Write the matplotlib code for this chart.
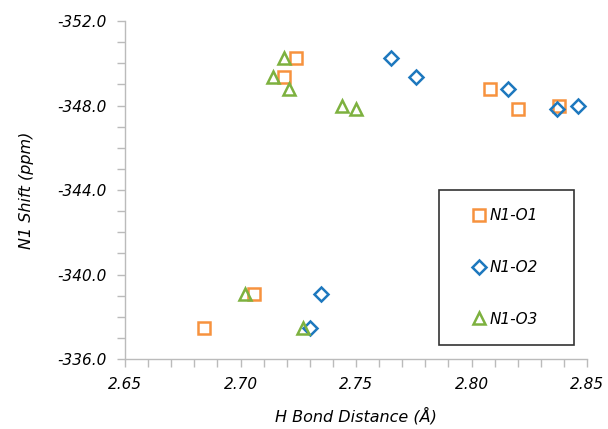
import matplotlib
matplotlib.use("Agg")
import matplotlib.pyplot as plt
from matplotlib.ticker import MultipleLocator, FormatStrFormatter

plt.rcParams['font.family'] = ['DejaVu Sans']

shift = [-350.27, -349.33, -348.79, -348.0, -347.83, -339.07, -337.45]
o1_dist = [2.724, 2.719, 2.808, 2.838, 2.820, 2.706, 2.684]
o2_dist = [2.765, 2.776, 2.816, 2.846, 2.837, 2.735, 2.730]
o3_dist = [2.719, 2.714, 2.721, 2.744, 2.750, 2.702, 2.727]

fig = plt.figure(figsize=(6.08, 4.29), dpi=100)
ax = fig.add_axes([0.2056, 0.163, 0.7599, 0.788])

ms = 9
mew = 1.8
ax.plot(o1_dist, shift, ls='none', marker='s', ms=ms, mfc='none', mec='#F7923E', mew=mew, label='N1-O1')
ax.plot(o2_dist, shift, ls='none', marker='D', ms=7.5, mfc='none', mec='#1D78BE', mew=mew, label='N1-O2')
ax.plot(o3_dist, shift, ls='none', marker='^', ms=ms, mfc='none', mec='#7DB13F', mew=mew, label='N1-O3')

ax.set_xlim(2.65, 2.85)
ax.set_ylim(-336, -352)
ax.xaxis.set_major_locator(MultipleLocator(0.05))
ax.xaxis.set_minor_locator(MultipleLocator(0.01))
ax.yaxis.set_major_locator(MultipleLocator(4))
ax.yaxis.set_minor_locator(MultipleLocator(1))
ax.xaxis.set_major_formatter(FormatStrFormatter('%.2f'))
ax.yaxis.set_major_formatter(FormatStrFormatter('%.1f'))

for s in ['top', 'right']:
    ax.spines[s].set_visible(False)
for s in ['left', 'bottom']:
    ax.spines[s].set_color('#BBBBBB')
    ax.spines[s].set_linewidth(1.0)

ax.tick_params(which='both', direction='out', color='#BBBBBB', width=1.0)
ax.tick_params(which='major', length=6, labelsize=11, pad=7)
ax.tick_params(which='minor', length=6)
for lbl in ax.get_xticklabels() + ax.get_yticklabels():
    lbl.set_fontstyle('italic')

ax.set_xlabel('H Bond Distance (Å)', fontsize=11.5, fontstyle='italic', labelpad=11)
ax.set_ylabel('N1 Shift (ppm)', fontsize=11.5, fontstyle='italic', labelpad=17)

leg = ax.legend(loc='upper left',
                bbox_to_anchor=(439/608, 1 - 345/429, 135/608, 155/429),
                bbox_transform=fig.transFigure, mode='expand',
                frameon=True, fancybox=False, edgecolor='black',
                labelspacing=2.4, handletextpad=-0.7, borderpad=1.2, borderaxespad=0,
                handlelength=2.84, prop={'style': 'italic', 'size': 11})
leg.get_frame().set_linewidth(1.2)

fig.savefig('out.png', dpi=100)
